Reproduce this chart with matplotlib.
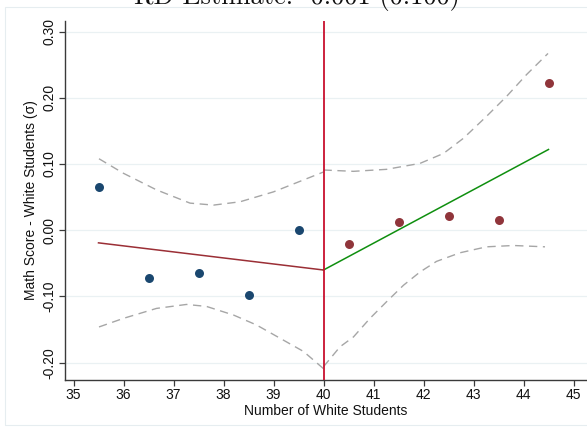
import matplotlib
matplotlib.use("Agg")
import matplotlib.pyplot as plt
from matplotlib.patches import Rectangle

# Binned means
x_left = [35.5, 36.5, 37.5, 38.5, 39.5]
y_left = [0.066, -0.072, -0.065, -0.098, 0.000]
x_right = [40.5, 41.5, 42.5, 43.5, 44.5]
y_right = [-0.020, 0.0125, 0.021, 0.016, 0.222]

# Linear fits
fit_left_x = [35.5, 40.0]
fit_left_y = [-0.019, -0.060]
fit_right_x = [40.0, 44.5]
fit_right_y = [-0.060, 0.122]

# Confidence bands
ci_lu_x = [35.51, 36.0, 36.66, 37.33, 37.8, 38.33, 39.0, 39.6, 40.0]
ci_lu_y = [0.108, 0.086, 0.061, 0.041, 0.038, 0.043, 0.058, 0.076, 0.088]
ci_ll_x = [35.51, 36.0, 36.66, 37.26, 37.66, 38.2, 38.66, 39.2, 39.6, 40.0]
ci_ll_y = [-0.146, -0.133, -0.118, -0.112, -0.115, -0.128, -0.143, -0.166, -0.183, -0.209]
ci_ru_x = [40.0, 40.6, 41.26, 41.93, 42.4, 42.8, 43.26, 43.66, 44.06, 44.49]
ci_ru_y = [0.091, 0.089, 0.092, 0.101, 0.116, 0.139, 0.172, 0.202, 0.235, 0.267]
ci_rl_x = [40.0, 40.33, 40.6, 40.93, 41.26, 41.6, 41.93, 42.26, 42.73, 43.26, 43.8, 44.43]
ci_rl_y = [-0.206, -0.176, -0.161, -0.133, -0.108, -0.083, -0.063, -0.047, -0.034, -0.025, -0.023, -0.025]

cutoff = 40
xticks = [35, 36, 37, 38, 39, 40, 41, 42, 43, 44, 45]
yticks = [-0.20, -0.10, 0.00, 0.10, 0.20, 0.30]
title = "RD Estimate: -0.001 (0.100)"

plt.rcParams['font.family'] = ['Liberation Sans', 'DejaVu Sans']

fig = plt.figure(figsize=(5.87, 4.32), dpi=100)
W, H = 587, 432
ax = fig.add_axes([65 / W, 1 - 380 / H, 1 - 65 / W, (380 - 21) / H])

# faint outer frame
fig.patches.append(Rectangle((5 / W, 1 - 425 / H), 1.2, (425 - 7) / H,
                             transform=fig.transFigure, fill=False,
                             edgecolor='#e6edf0', lw=0.8))

for yt in yticks:
    ax.axhline(yt, color='#eaf1f3', lw=0.9, zorder=0)

ci_kw = dict(color='#a6a6a6', lw=1.0, dashes=(6, 4), zorder=2)
ax.plot(ci_lu_x, ci_lu_y, **ci_kw)
ax.plot(ci_ll_x, ci_ll_y, **ci_kw)
ax.plot(ci_ru_x, ci_ru_y, **ci_kw)
ax.plot(ci_rl_x, ci_rl_y, **ci_kw)

ax.plot(fit_left_x, fit_left_y, color='#9b2f36', lw=1.1, zorder=3)
ax.plot(fit_right_x, fit_right_y, color='#0f8f0f', lw=1.1, zorder=3)

ax.scatter(x_left, y_left, s=42, color='#1a476f', zorder=4, linewidths=0)
ax.scatter(x_right, y_right, s=42, color='#90353b', zorder=4, linewidths=0)

ax.axvline(cutoff, color='#c8102e', lw=1.3, zorder=5)

ax.set_xlim(34.83, 45.27)
ax.set_ylim(-0.2261, 0.316)
ax.set_xticks(xticks)
ax.set_xticklabels([str(t) for t in xticks])
ax.set_yticks(yticks)
ax.set_yticklabels([f"{t:.2f}" for t in yticks], rotation=90, va='center')

for s in ['top', 'right']:
    ax.spines[s].set_visible(False)
for s in ['left', 'bottom']:
    ax.spines[s].set_color('#3a3a3a')
    ax.spines[s].set_linewidth(1.0)
ax.tick_params(axis='both', direction='out', length=4, width=0.9,
               color='#3a3a3a', labelsize=10, labelcolor='#111111', pad=2)

ax.set_xlabel("Number of White Students", fontsize=10, labelpad=1, color='#111111')
ax.set_ylabel("Math Score - White Students (σ)", fontsize=10, labelpad=3, color='#111111')

fig.text(297 / W, 1 - 4 / H, title, fontfamily='cmr10', fontsize=19,
         ha='center', va='baseline', color='#111111')

fig.savefig("out.png", dpi=100)
